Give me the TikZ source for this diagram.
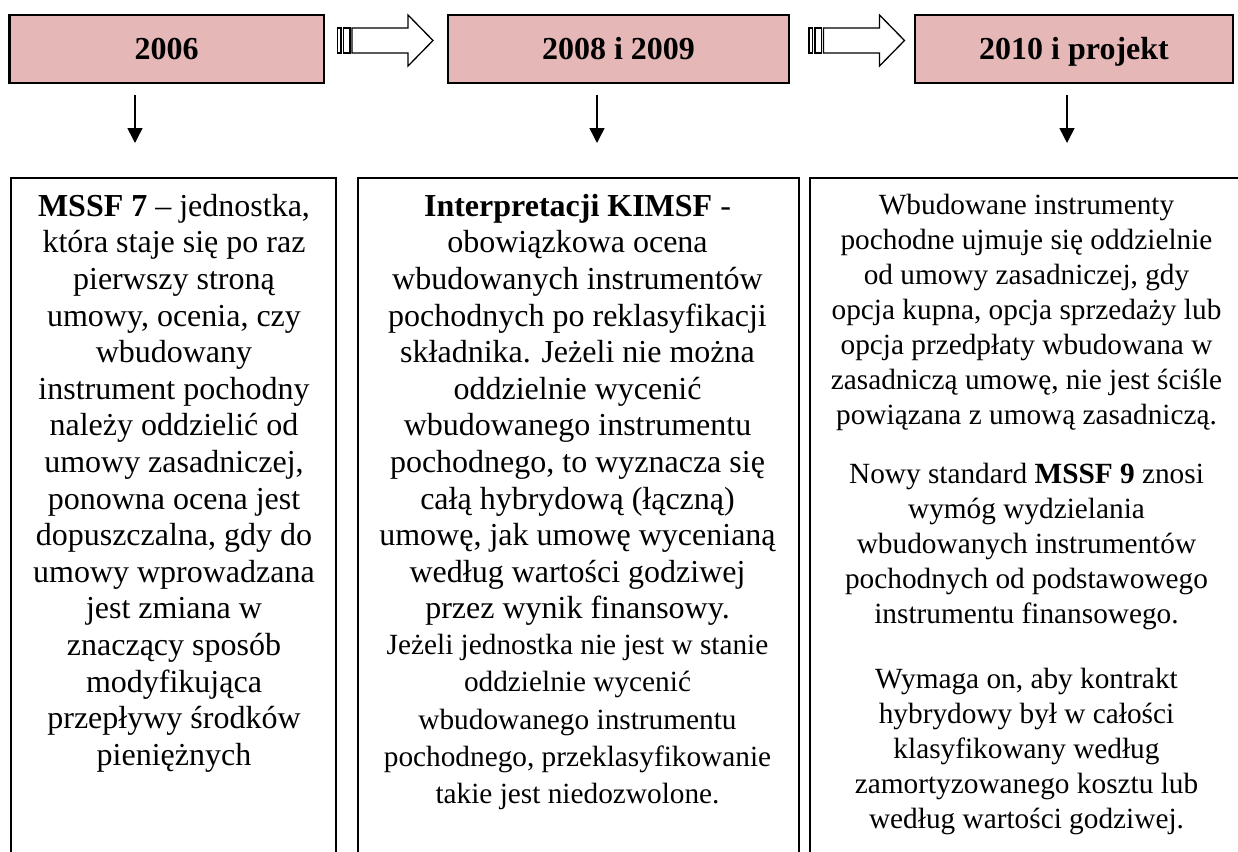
\documentclass[tikz,border=0pt]{standalone}
\usepackage{fontspec}
\setmainfont{Liberation Serif}
\usetikzlibrary{arrows.meta}
\definecolor{hdrpink}{HTML}{E5B8B7}
\newcommand{\firstln}{\rule{0pt}{26pt}}
\begin{document}
\begin{tikzpicture}[x=1pt, y=-1pt,
  hdr/.style={draw=black, line width=2.3pt, fill=hdrpink, inner sep=0pt,
    minimum height=68pt, font=\fontsize{32}{36}\selectfont\bfseries,
    text height=21.6pt, text depth=0pt},
  cbox/.style={draw=black, line width=2pt, fill=none, inner sep=0pt,
    anchor=north west, minimum height=740pt},
  txtA/.style={anchor=north, inner sep=0pt, align=center,
    font=\fontsize{32}{36.6}\selectfont},
  txtB/.style={anchor=north, inner sep=0pt, align=center,
    font=\fontsize{29.3}{37.25}\selectfont},
  txtC/.style={anchor=north, inner sep=0pt, align=center,
    font=\fontsize{29.3}{35}\selectfont},
  dnarrow/.style={line width=1.5pt, -{Triangle[length=15pt,width=15pt]}},
  barrow/.style={draw=black, fill=white, line width=1.3pt, line join=miter}
]
\useasboundingbox (0,0) rectangle (1238,851);
\clip (0,0) rectangle (1238,851);

% header boxes
\node[hdr, minimum width=314.7pt] (h1) at (166.7,49) {2006};
\node[hdr, minimum width=341pt] (h2) at (618.5,49) {2008 i 2009};
\node[hdr, minimum width=318pt] (h3) at (1074,49) {2010 i projekt};

% block arrows between headers
\foreach \dx/\nm in {0/ba1, 471.5/ba2}{
  \begin{scope}[shift={(\dx,0)}]
    \path[barrow] (337.5,28) rectangle (341,53);
    \path[barrow] (343.5,28) rectangle (350,53);
    \path[barrow] (352,28) -- (408,28) -- (408,15) -- (433,40.5)
      -- (408,66) -- (408,53) -- (352,53) -- cycle;
    \coordinate (\nm) at (392,40.5);
  \end{scope}
}

% content boxes (open at the bottom, cut by the page edge)
\node[cbox, minimum width=325pt] (c1) at (10,177) {};
\node[cbox, minimum width=441pt] (c2) at (357,177) {};
\node[cbox, minimum width=435pt] (c3) at (809,177) {};

% down arrows
\coordinate (d1s) at (135,95);  \coordinate (d1e) at (135,143);
\coordinate (d2s) at (597,95);  \coordinate (d2e) at (597,143);
\coordinate (d3s) at (1067,95); \coordinate (d3e) at (1067,143);
\draw[dnarrow] (d1s) -- (d1e);
\draw[dnarrow] (d2s) -- (d2e);
\draw[dnarrow] (d3s) -- (d3e);

% texts
\node[txtA] (t1) at (174,190) {\firstln\textbf{MSSF 7} – jednostka,\\
która staje się po raz\\
pierwszy stroną\\
umowy, ocenia, czy\\
wbudowany\\
instrument pochodny\\
należy oddzielić od\\
umowy zasadniczej,\\
ponowna ocena jest\\
dopuszczalna, gdy do\\
umowy wprowadzana\\
jest zmiana w\\
znaczący sposób\\
modyfikująca\\
przepływy środków\\
pieniężnych};

\node[txtA] (t2a) at (577.5,190) {\firstln\textbf{Interpretacji KIMSF} -\\
obowiązkowa ocena\\
wbudowanych instrumentów\\
pochodnych po reklasyfikacji\\
składnika. Jeżeli nie można\\
oddzielnie wycenić\\
wbudowanego instrumentu\\
pochodnego, to wyznacza się\\
całą hybrydową (łączną)\\
umowę, jak umowę wycenianą\\
według wartości godziwej\\
przez wynik finansowy.};

\node[txtB] (t2b) at (577.5,628.5) {\firstln Jeżeli jednostka nie jest w stanie\\
oddzielnie wycenić\\
wbudowanego instrumentu\\
pochodnego, przeklasyfikowanie\\
takie jest niedozwolone.};

\node[txtC] (t3a) at (1026.5,188) {\firstln Wbudowane instrumenty\\
pochodne ujmuje się oddzielnie\\
od umowy zasadniczej, gdy\\
opcja kupna, opcja sprzedaży lub\\
opcja przedpłaty wbudowana w\\
zasadniczą umowę, nie jest ściśle\\
powiązana z umową zasadniczą.};

\node[txtC] (t3b) at (1026.5,457) {\firstln Nowy standard \textbf{MSSF 9} znosi\\
wymóg wydzielania\\
wbudowanych instrumentów\\
pochodnych od podstawowego\\
instrumentu finansowego.};

\node[txtC] (t3c) at (1026.5,662) {\firstln Wymaga on, aby kontrakt\\
hybrydowy był w całości\\
klasyfikowany według\\
zamortyzowanego kosztu lub\\
według wartości godziwej.};
\end{tikzpicture}
\end{document}
